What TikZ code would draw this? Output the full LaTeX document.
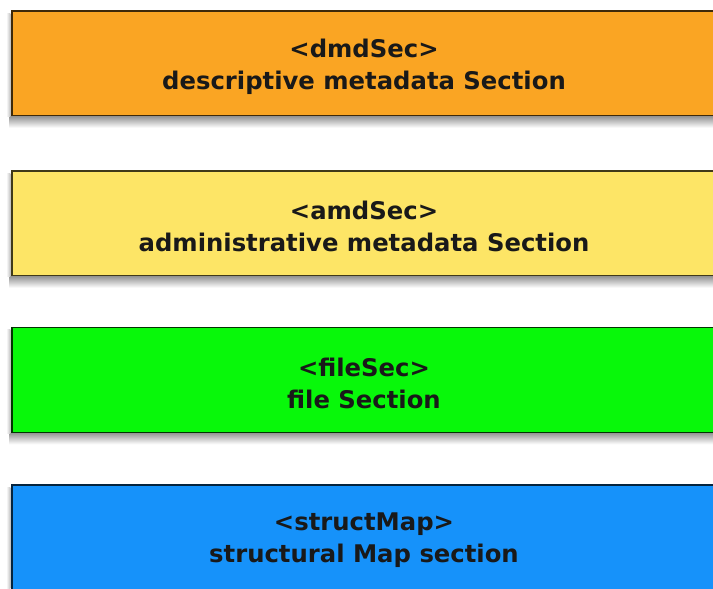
\documentclass[tikz,border=0pt]{standalone}
\usepackage{fontspec}
\setmainfont{DejaVu Sans}
\definecolor{cOrange}{RGB}{250,165,35}
\definecolor{cYellow}{RGB}{253,229,102}
\definecolor{cGreen}{RGB}{8,248,10}
\definecolor{cBlue}{RGB}{22,146,250}
\tikzset{
  secbox/.style={rectangle, minimum width=704pt, minimum height=105pt,
    inner sep=0pt, line width=1.6pt},
  sectext/.style={align=center, inner sep=0pt,
    font=\fontsize{24.3}{32}\selectfont\bfseries, text=black!90},
  softshadow/.style={top color=black!40, bottom color=white, draw=none},
}
\begin{document}
\begin{tikzpicture}[x=1pt,y=-1pt]
\useasboundingbox (0,0) rectangle (713,589);
\fill[white] (0,0) rectangle (713,589);
\clip (0,0) rectangle (713,589);
\node[secbox, fill=cOrange, draw=cOrange!25!black] (dmd) at (364,63.5) {};
\node[secbox, fill=cYellow, draw=cYellow!25!black] (amd) at (364,223.5) {};
\node[secbox, fill=cGreen, draw=cGreen!20!black] (file) at (364,380) {};
\node[secbox, fill=cBlue, draw=cBlue!25!black] (struct) at (364,537.5) {};
\foreach \b in {dmd,amd,file,struct}{
  \shade[softshadow] ([xshift=-2pt]\b.south west) rectangle ([yshift=-11pt]\b.south east);
  \shade[left color=white, right color=black!25, draw=none] ([xshift=-5pt,yshift=-3pt]\b.north west) rectangle ([xshift=-0.8pt]\b.south west);
}
\node[sectext, yshift=-3pt] (dmdT) at (dmd.center) {<dmdSec>\\descriptive metadata Section};
\node[sectext, yshift=-3pt] (amdT) at (amd.center) {<amdSec>\\administrative metadata Section};
\node[sectext, yshift=-3pt] (fileT) at (file.center) {<fileSec>\\file Section};
\node[sectext, yshift=-3pt] (structT) at (struct.center) {<structMap>\\structural Map section};
\end{tikzpicture}
\end{document}
